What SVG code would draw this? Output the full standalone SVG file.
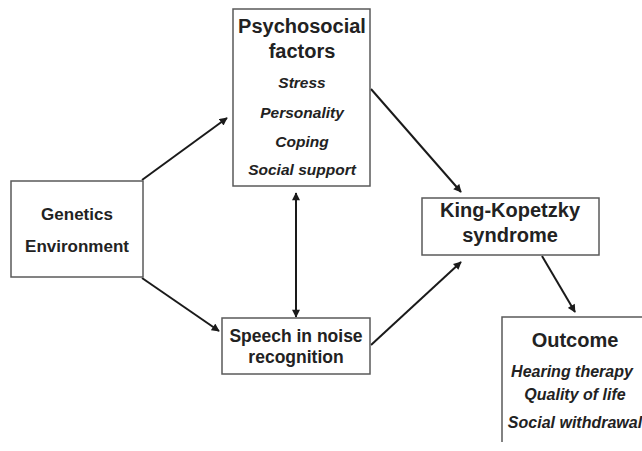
<svg xmlns="http://www.w3.org/2000/svg" width="642" height="451" viewBox="0 0 642 451">
  <style>
    .box { fill: #ffffff; stroke: #5a5a5a; stroke-width: 1.5; }
    .t { font-family: "Liberation Sans", Arial, sans-serif; font-weight: bold; fill: #222222; text-anchor: middle; }
    .it { font-style: italic; }
    .edge { stroke: #1a1a1a; stroke-width: 2; fill: none; }
  </style>
  <defs>
    <marker id="arrow" viewBox="0 0 10 10" refX="9" refY="5" markerWidth="9" markerHeight="8" markerUnits="userSpaceOnUse" orient="auto-start-reverse">
      <path d="M0,0 L10,5 L0,10 z" fill="#1a1a1a"/>
    </marker>
  </defs>
  <rect width="642" height="451" fill="#ffffff"/>

  <g id="connectors">
    <line class="edge" x1="142" y1="180" x2="227" y2="118" marker-end="url(#arrow)"/>
    <line class="edge" x1="142" y1="278" x2="219" y2="331" marker-end="url(#arrow)"/>
    <line class="edge" x1="371" y1="89" x2="461" y2="192" marker-end="url(#arrow)"/>
    <line class="edge" x1="371" y1="345" x2="461" y2="262" marker-end="url(#arrow)"/>
    <line class="edge" x1="296" y1="193" x2="296" y2="317" marker-start="url(#arrow)" marker-end="url(#arrow)"/>
    <line class="edge" x1="542" y1="256" x2="575" y2="312" marker-end="url(#arrow)"/>
  </g>

  <g id="genetics">
    <rect class="box" x="11" y="181" width="132" height="96"/>
    <text class="t" x="77" y="220" font-size="17">Genetics</text>
    <text class="t" x="77" y="252" font-size="17">Environment</text>
  </g>

  <g id="psychosocial">
    <rect class="box" x="233" y="9" width="137" height="177"/>
    <text class="t" x="302" y="33" font-size="20">Psychosocial</text>
    <text class="t" x="302" y="58" font-size="20">factors</text>
    <text class="t it" x="302" y="88" font-size="15.5">Stress</text>
    <text class="t it" x="302" y="118" font-size="15.5">Personality</text>
    <text class="t it" x="302" y="147" font-size="15.5">Coping</text>
    <text class="t it" x="302" y="175" font-size="15.5">Social support</text>
  </g>

  <g id="speech">
    <rect class="box" x="222" y="318" width="148" height="56"/>
    <text class="t" x="296" y="342" font-size="17.5">Speech in noise</text>
    <text class="t" x="296" y="363" font-size="17.5">recognition</text>
  </g>

  <g id="king-kopetzky">
    <rect class="box" x="422" y="198" width="177" height="57"/>
    <text class="t" x="510" y="217" font-size="20">King-Kopetzky</text>
    <text class="t" x="510" y="242" font-size="20">syndrome</text>
  </g>

  <g id="outcome">
    <path class="box" d="M642,317 L502,317 L502,442" fill="none"/>
    <text class="t" x="575" y="347" font-size="20">Outcome</text>
    <text class="t it" x="572" y="377" font-size="16">Hearing therapy</text>
    <text class="t it" x="575" y="400" font-size="16">Quality of life</text>
    <text class="t it" x="575" y="428" font-size="16">Social withdrawal</text>
  </g>
</svg>
